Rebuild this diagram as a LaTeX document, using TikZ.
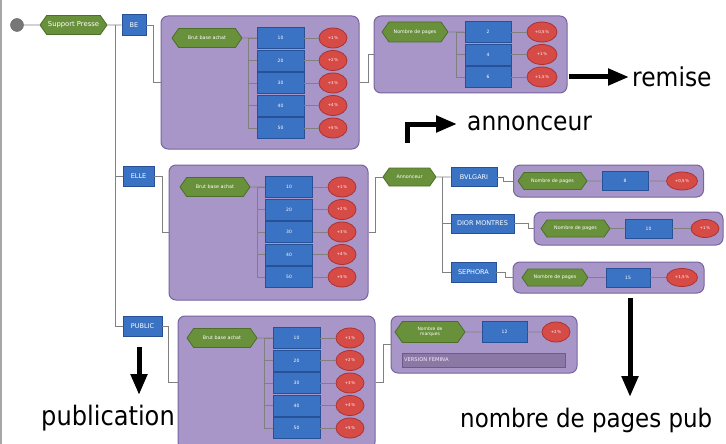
\documentclass[tikz,border=0pt]{standalone}
\usepackage{fontspec}
\setmainfont{DejaVu Sans}
\newfontfamily\bigf[FakeStretch=0.9]{DejaVu Sans}
\usetikzlibrary{shapes.geometric,shapes.symbols,arrows.meta,calc}
\definecolor{contfill}{HTML}{A896C8}
\definecolor{contborder}{HTML}{7864A0}
\definecolor{bluefill}{HTML}{3A73C3}
\definecolor{blueborder}{HTML}{285096}
\definecolor{redfill}{HTML}{D74B46}
\definecolor{redborder}{HTML}{AA3232}
\definecolor{hexfill}{HTML}{69913C}
\definecolor{hexborder}{HTML}{4B6E28}
\definecolor{barfill}{HTML}{8C78A5}
\definecolor{barborder}{HTML}{6E5A8C}
\definecolor{lineg}{HTML}{808080}
\definecolor{dotg}{HTML}{777777}
\tikzset{
  tinytxt/.style={font=\fontsize{4.5}{5}\selectfont, text=white},
  hexn/.style={signal, signal to=east and west, signal pointer angle=110,
    draw=hexborder, fill=hexfill, line width=0.8pt, inner sep=0.5pt,
    minimum height=19pt, minimum width=70pt, tinytxt, font=\fontsize{4.8}{5.2}\selectfont, align=center},
  bbox/.style={rectangle, draw=blueborder, fill=bluefill, line width=0.8pt,
    minimum width=47pt, minimum height=21pt, inner sep=0pt, tinytxt},
  mbox/.style={bbox, font=\fontsize{6.5}{7}\selectfont, minimum height=20pt},
  pct/.style={ellipse, draw=redborder, fill=redfill, line width=0.8pt,
    minimum width=28pt, minimum height=20pt, inner sep=0pt, tinytxt, font=\fontsize{4}{4.5}\selectfont},
  cont/.style={rectangle, rounded corners=7pt, draw=contborder, fill=contfill,
    line width=1pt, inner sep=0pt},
  conn/.style={draw=lineg, line width=0.8pt},
  bigarrow/.style={line width=5pt, line join=miter, -{Triangle[length=21pt,width=16pt]}},
  bigtext/.style={font=\bigf\fontsize{26}{30}\selectfont, inner sep=0pt, anchor=base west},
}
\begin{document}
\begin{tikzpicture}[x=1pt,y=-1pt]
\useasboundingbox (0,0) rectangle (726,444);
\fill[white] (0,0) rectangle (726,444);
\draw[line width=1.5pt, gray!70] (0.75,0) -- (0.75,444);

% root
\node[circle, fill=dotg, draw=dotg!80!black, minimum size=13pt, inner sep=0pt] (dot) at (17,25) {};
\node[hexn, minimum width=67pt, font=\fontsize{6.8}{7}\selectfont] (sp) at (73.5,25) {Support Presse};
\node[mbox, minimum width=24pt, minimum height=21pt] (BE) at (134,25) {BE};
\node[mbox, minimum width=31pt] (ELLE) at (138.5,176) {ELLE};
\node[mbox, minimum width=39pt] (PUBLIC) at (142.5,326) {PUBLIC};
\coordinate (trunk) at (115,25);
\draw[conn] (dot) -- (sp);
\draw[conn] (sp) -- (BE);
\draw[conn] (trunk) |- (ELLE.west);
\draw[conn] (trunk) |- (PUBLIC.west);

% containers
\node[cont, minimum width=198pt, minimum height=133pt] (BEc) at (260,82.5) {};
\node[cont, minimum width=199pt, minimum height=135pt] (ELLEc) at (268.5,232.5) {};
\node[cont, minimum width=197pt, minimum height=133pt] (PUBc) at (276.5,382.5) {};
\draw[conn] (BE.east) -- ++(7,0) |- (BEc.west);
\draw[conn] (ELLE.east) -- ++(8,0) |- (ELLEc.west);
\draw[conn] (PUBLIC.east) -- ++(6,0) |- (PUBc.west);

% 5-level stacks
\foreach \s/\hx/\bx/\ex/\yy in {1/207/280.5/333/38, 2/215/289/342/187, 3/222/296.5/350/338} {
  \node[hexn] (h\s) at (\hx,\yy) {Brut base achat};
  \foreach \i/\v in {1/10,2/20,3/30,4/40,5/50} {
    \node[bbox] (b\s-\i) at (\bx,{\yy+(\i-1)*22.5}) {\v};
    \node[pct] (p\s-\i) at (\ex,{\yy+(\i-1)*22.5}) {+\i\,\%};
    \draw[conn] (b\s-\i) -- (p\s-\i);
    \draw[conn] (b\s-1.west) ++(-8,0) |- (b\s-\i.west);
  }
  \draw[conn] (h\s) -- (b\s-1);
}

% BE -> nombre de pages
\node[cont, minimum width=193pt, minimum height=77pt] (NPc) at (470.5,54.5) {};
\draw[conn] (BEc.east) -- ++(9,0) |- (NPc.west);
\node[hexn, minimum width=66pt, minimum height=20pt] (h4) at (415,32) {Nombre de pages};
\node[bbox, minimum width=46pt] (b4-1) at (488,32) {2};
\node[bbox, minimum width=46pt] (b4-2) at (488,54.5) {4};
\node[bbox, minimum width=46pt] (b4-3) at (488,77) {6};
\node[pct, minimum width=30pt] (p4-1) at (542,32) {+0,5\,\%};
\node[pct, minimum width=30pt] (p4-2) at (542,54.5) {+1\,\%};
\node[pct, minimum width=30pt] (p4-3) at (542,77) {+1,5\,\%};
\draw[conn] (h4) -- (b4-1);
\foreach \i in {1,2,3} {
  \draw[conn] (b4-\i) -- (p4-\i);
  \draw[conn] (b4-1.west) ++(-8,0) |- (b4-\i.west);
}

% ELLE -> Annonceur
\node[hexn, minimum width=53pt, minimum height=18pt] (ann) at (409.5,177) {Annonceur};
\draw[conn] (ELLEc.east) -- ++(7,0) |- (ann.west);
\node[mbox, minimum width=46pt, minimum height=19pt] (bv) at (474,177) {BVLGARI};
\node[mbox, minimum width=63pt, minimum height=19pt] (dior) at (482.5,223.5) {DIOR MONTRES};
\node[mbox, minimum width=45pt] (seph) at (473.5,272) {SEPHORA};
\draw[conn] (ann) -- (bv);
\draw[conn] (bv.west) ++(-8,0) |- (dior.west);
\draw[conn] (bv.west) ++(-8,0) |- (seph.west);

\node[cont, minimum width=190pt, minimum height=32pt] (bvc) at (608.5,181) {};
\node[cont, minimum width=189pt, minimum height=33pt] (diorc) at (628.5,228.5) {};
\node[cont, minimum width=191pt, minimum height=31pt] (sephc) at (608.5,277.5) {};
\draw[conn] (bv.east) -- ++(6,0) |- (bvc.west);
\draw[conn] (dior.east) -- ++(14,0) |- (diorc.west);
\draw[conn] (seph.east) -- ++(9,0) |- (sephc.west);

\node[hexn, minimum width=69pt, minimum height=17pt] (hb) at (552.5,181) {Nombre de pages};
\node[bbox, minimum width=46pt, minimum height=19pt] (bb) at (625,181) {8};
\node[pct, minimum width=31pt, minimum height=18pt] (pb) at (682,181) {+0,5\,\%};
\node[hexn, minimum width=69pt, minimum height=17pt] (hd) at (575.5,228.5) {Nombre de pages};
\node[bbox, minimum width=47pt, minimum height=19pt] (bd) at (648.5,228.5) {10};
\node[pct, minimum width=28pt, minimum height=18pt] (pd) at (705,228.5) {+1\,\%};
\node[hexn, minimum width=66pt, minimum height=17pt] (hs) at (555,277.5) {Nombre de pages};
\node[bbox, minimum width=44pt, minimum height=19pt] (bs) at (628,277.5) {15};
\node[pct, minimum width=31pt, minimum height=18pt] (ps) at (682,277.5) {+1,5\,\%};
\draw[conn] (hb) -- (bb) -- (pb);
\draw[conn] (hd) -- (bd) -- (pd);
\draw[conn] (hs) -- (bs) -- (ps);

% PUBLIC -> marques
\node[cont, minimum width=186pt, minimum height=57pt] (NMc) at (484,344.5) {};
\draw[conn] (PUBc.east) -- ++(8,0) |- (NMc.west);
\node[hexn, minimum width=70pt, minimum height=21pt, font=\fontsize{4.5}{5}\selectfont] (hm) at (430,332) {Nombre de\\marques};
\node[bbox, minimum width=45pt] (bm) at (504.5,332) {12};
\node[pct] (pm) at (556,332) {+2\,\%};
\draw[conn] (hm) -- (bm) -- (pm);
\node[rectangle, draw=barborder, fill=barfill, line width=0.8pt, minimum width=163pt, minimum height=14pt,
  inner sep=0pt, text=white!85!contfill, font=\fontsize{5.2}{6}\selectfont] (vf) at (483.5,360)
  {\makebox[159pt][l]{VERSION FEMINA}};

% annotations
\node[bigtext] (remise) at (632,87) {remise};
\node[bigtext] (annon) at (467,131) {annonceur};
\node[bigtext, font=\bigf\fontsize{26.8}{30}\selectfont] (pub) at (41,425) {publication};
\node[bigtext, font=\bigf\fontsize{25.5}{30}\selectfont] (npp) at (460,427) {nombre de pages pub};
\coordinate (ra) at (569,77);
\coordinate (rb) at (629,77);
\draw[bigarrow] (ra) -- (rb);
\coordinate (aa) at (407,143);
\coordinate (ab) at (457,124);
\draw[bigarrow] (aa) |- (ab);
\coordinate (pa) at (139,347);
\coordinate (pb2) at (139,395);
\draw[bigarrow] (pa) -- (pb2);
\coordinate (na) at (630,298);
\coordinate (nb) at (630,397);
\draw[bigarrow] (na) -- (nb);
\end{tikzpicture}
\end{document}
